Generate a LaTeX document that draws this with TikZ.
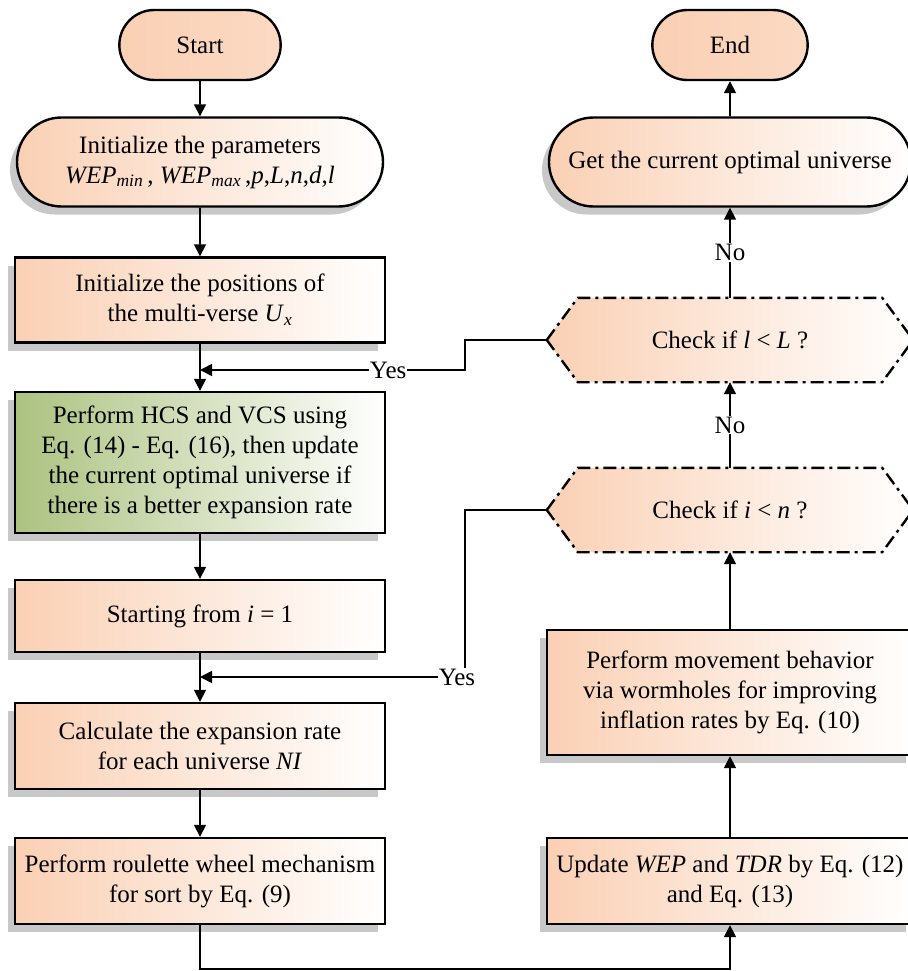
\documentclass[tikz,border=0pt]{standalone}
\usepackage{fontspec}
\setmainfont{Liberation Serif}
\usetikzlibrary{shapes.misc,shadows,arrows.meta,calc}
\definecolor{peach}{RGB}{250,208,180}
\definecolor{leaf}{RGB}{172,194,128}
\definecolor{shad}{RGB}{200,200,200}
\tikzset{
  box/.style={draw=black,line width=2.4pt,inner sep=2pt,align=center,
    left color=peach,right color=white,
    drop shadow={shadow xshift=-7pt,shadow yshift=-8pt,fill=shad,opacity=1}},
  rbox/.style={box,rectangle,minimum width=370pt},
  capsule/.style={box,rounded rectangle},
  term/.style={draw=black,line width=2.4pt,rounded rectangle,left color=peach,right color=peach!80!white,
    minimum width=168pt,minimum height=70pt},
  holder/.style={rectangle,minimum width=366pt,minimum height=84pt,inner sep=0pt,align=center},
  conn/.style={line width=1.6pt,-{Triangle[length=12pt,width=12pt]}},
  lbl/.style={fill=white,inner sep=1pt},
  dd/.style={line width=2.4pt,dash pattern=on 13pt off 5pt on 3pt off 5pt}
}
\newcommand{\hexpath}[1]{(#1.west) -- ([xshift=31pt]#1.north west) -- ([xshift=-31pt]#1.north east) -- (#1.east) -- ([xshift=-31pt]#1.south east) -- ([xshift=31pt]#1.south west) -- cycle}
\begin{document}
\begin{tikzpicture}[x=1pt,y=-1pt,font=\fontsize{25}{30}\selectfont]
\useasboundingbox (0,0) rectangle (907,971);
% left column
\node[term] (start) at (200,45) {Start};
\node[capsule,minimum width=370pt,minimum height=89pt] (init) at (200,162)
  {Initialize the parameters\\\textit{WEP}\textsubscript{\textit{min}}\,, \textit{WEP}\textsubscript{\textit{max}}\,,\textit{p},\textit{L},\textit{n},\textit{d},\textit{l}};
\node[rbox,minimum height=85pt] (pos) at (200,300)
  {Initialize the positions of\\the multi-verse \textit{U}\textsubscript{\textit{x}}};
\node[rbox,minimum height=141pt,left color=leaf,right color=white] (hcs) at (200,462.5)
  {Perform HCS and VCS using\\Eq. (14) - Eq. (16), then update\\the current optimal universe if\\there is a better expansion rate};
\node[rbox,minimum height=72pt] (istart) at (200,616) {Starting from \textit{i} = 1};
\node[rbox,minimum height=86pt] (calc) at (200,746)
  {Calculate the expansion rate\\for each universe \textit{NI}};
\node[rbox,minimum height=86pt] (roul) at (200,881)
  {Perform roulette wheel mechanism\\for sort by Eq. (9)};
% right column
\node[term,minimum width=162pt] (end) at (730,45) {End};
\node[capsule,minimum width=366pt,minimum height=89pt] (get) at (730,162) {Get the current optimal universe};
\node[box,rectangle,minimum width=366pt,minimum height=125pt] (move) at (730,692.5)
  {Perform movement behavior\\via wormholes for improving\\inflation rates by Eq. (10)};
\node[box,rectangle,minimum width=366pt,minimum height=86pt] (upd) at (730,881)
  {Update \textit{WEP} and \textit{TDR} by Eq. (12)\\and Eq. (13)};
% hexagons
\node[holder] (chkl) at (730,340) {};
\node[holder] (chki) at (730,510) {};
\foreach \h in {chkl,chki}{
  \fill[shad,xshift=-7pt,yshift=-8pt] \hexpath{\h};
  \shade[left color=peach,right color=white] \hexpath{\h};
  \draw[dd] \hexpath{\h};
}
\node at (chkl) {Check if \textit{l} < \textit{L} ?};
\node at (chki) {Check if \textit{i} < \textit{n} ?};
% junction points
\coordinate (j1) at (200,370);
\coordinate (k1) at (465,370);
\coordinate (j2) at (200,677);
\coordinate (k2) at (465,677);
\coordinate (b) at (200,969);
% connectors
\draw[conn] (start) -- (init);
\draw[conn] (init) -- (pos);
\draw[conn] (pos) -- (hcs);
\draw[conn] (hcs) -- (istart);
\draw[conn] (istart) -- (calc);
\draw[conn] (calc) -- (roul);
\draw[conn] (roul.south) -- (b) -| (upd.south);
\draw[conn] (upd) -- (move);
\draw[conn] (move) -- (chki);
\draw[conn] (chki.north) -- node[lbl]{No} (chkl.south);
\draw[conn] (chkl.north) -- node[lbl]{No} (get.south);
\draw[conn] (get) -- (end);
\draw[conn] (chkl.west) -| (k1) -- node[lbl,pos=0.29]{Yes} (j1);
\draw[conn] (chki.west) -| (k2) -- (j2);
\node[lbl] at (457,677) {Yes};
\end{tikzpicture}
\end{document}
